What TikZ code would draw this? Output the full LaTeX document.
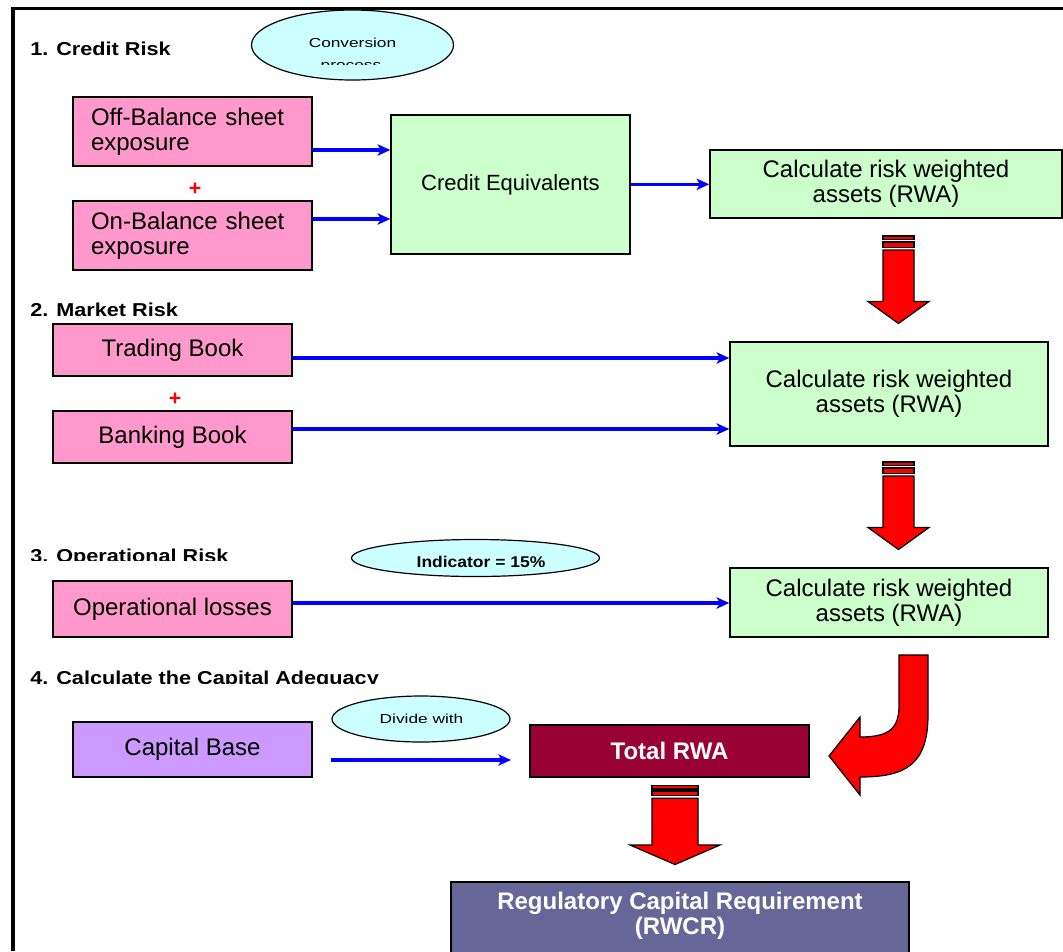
\documentclass[tikz,border=0pt]{standalone}
\usepackage{fontspec}
\setmainfont{Liberation Sans}
\newfontfamily\hdrfont[FakeStretch=1.16]{Liberation Sans}
\newfontfamily\ellfont[FakeStretch=1.33]{Liberation Sans}
\newfontfamily\indfont[FakeStretch=1.12]{Liberation Sans}
\usetikzlibrary{shapes.geometric,arrows.meta}
\definecolor{pinkc}{HTML}{FF99CC}
\definecolor{greenc}{HTML}{CCFFCC}
\definecolor{cyanc}{HTML}{CCFFFF}
\definecolor{purplec}{HTML}{CC99FF}
\definecolor{darkredc}{HTML}{990033}
\definecolor{regc}{HTML}{666699}
\definecolor{bluec}{HTML}{0000FF}
\definecolor{redc}{HTML}{FF0000}
\tikzset{
  box/.style={draw=black, line width=1.1pt, inner sep=0pt, align=center,
    font=\fontsize{18}{18.75}\selectfont},
  pinkbox/.style={box, fill=pinkc, minimum width=179.25pt},
  greenbox/.style={box, fill=greenc},
  ellbox/.style={ellipse, draw=black, line width=0.9pt, fill=cyanc, inner sep=0pt},
  hdr/.style={font=\hdrfont\bfseries\fontsize{14}{16}\selectfont, inner sep=0pt, anchor=base west},
  plus/.style={font=\bfseries\fontsize{16}{16}\selectfont, text=redc, inner sep=0pt},
  barrow/.style={draw=bluec, line width=2.6pt,
    -{Stealth[length=9.5pt,width=8.5pt,inset=2.5pt]}},
  redblk/.style={fill=redc, draw=black, line width=0.9pt, line join=miter},
}
\begin{document}
\begin{tikzpicture}[x=0.75pt, y=-0.75pt]
\clip (0,0) rectangle (1063,951);
\fill[white] (0,0) rectangle (1063,951);
% frame
\draw[line width=2.6pt] (13,951) -- (13,8.7) -- (1063,8.7);

% 1. Credit risk
\node[hdr] (h1) at (30,55) {1. Credit Risk};
\node[ellbox, minimum width=151.5pt, minimum height=52.5pt] (conv) at (352.5,45) {};
\node[font=\ellfont\fontsize{9.75}{12}\selectfont, anchor=base, inner sep=0pt] (convt) at (352.5,47.7) {Conversion};
\begin{scope}
  \clip (300,62.4) rectangle (410,64.2);
  \node[font=\ellfont\fontsize{9.75}{12}\selectfont, anchor=base, inner sep=0pt] (convp) at (351,69.4) {process};
\end{scope}

\node[pinkbox, minimum height=51.75pt, text width=152.25pt, align=left] (off) at (192.5,131.5) {Off-Balance sheet\\exposure};
\node[plus] (p1) at (195,189) {+};
\node[pinkbox, minimum height=51.75pt, text width=152.25pt, align=left] (on) at (192.5,235.5) {On-Balance sheet\\exposure};
\node[greenbox, minimum width=179.25pt, minimum height=104.25pt, font=\fontsize{16.5}{18}\selectfont] (ce) at (510.5,184.5) {Credit Equivalents};
\node[greenbox, minimum width=264pt, minimum height=51pt] (rwa1) at (886,184) {Calculate risk weighted\\assets (RWA)};

\coordinate (y150) at (0,150);
\coordinate (y219) at (0,219);
\coordinate (y184) at (0,184.3);
\draw[barrow] (off.east |- y150) -- (ce.west |- y150);
\draw[barrow] (on.east |- y219) -- (ce.west |- y219);
\draw[barrow] (ce.east |- y184) -- (rwa1.west |- y184);

% red arrow 1
\draw[redblk] (883,236) rectangle (914,239.5);
\draw[redblk] (883,242) rectangle (914,247.5);
\draw[redblk] (883,250) -- (914,250) -- (914,301.5) -- (929,301.5) -- (898.5,323.5) -- (868,301.5) -- (883,301.5) -- cycle;

% 2. Market risk
\node[hdr] (h2) at (30,316.7) {2. Market Risk};
\node[pinkbox, minimum height=39pt] (trad) at (172.5,350) {Trading Book};
\node[plus] (p2) at (175,399) {+};
\node[pinkbox, minimum height=39pt] (bank) at (172.5,437) {Banking Book};
\node[greenbox, minimum width=238.5pt, minimum height=78pt] (rwa2) at (889,394) {Calculate risk weighted\\assets (RWA)};
\coordinate (y358) at (0,358);
\coordinate (y429) at (0,429);
\draw[barrow] (trad.east |- y358) -- (rwa2.west |- y358);
\draw[barrow] (bank.east |- y429) -- (rwa2.west |- y429);

% red arrow 2
\draw[redblk] (883,462) rectangle (914,465.5);
\draw[redblk] (883,468) rectangle (914,473.5);
\draw[redblk] (883,476) -- (914,476) -- (914,527.5) -- (929,527.5) -- (898.5,549.5) -- (868,527.5) -- (883,527.5) -- cycle;

% 3. Operational risk
\begin{scope}
  \clip (20,530) rectangle (300,560.8);
  \node[hdr] (h3) at (30,562) {3. Operational Risk};
\end{scope}
\node[ellbox, minimum width=186pt, minimum height=27.75pt] (ind) at (475.5,558) {};
\node[font=\indfont\bfseries\fontsize{11.7}{13}\selectfont, anchor=base, inner sep=0pt] (indt) at (481,567.3) {Indicator = 15\%};
\node[pinkbox, minimum height=42pt] (oploss) at (172.5,609) {Operational losses};
\node[greenbox, minimum width=238.5pt, minimum height=51.75pt] (rwa3) at (889,602.5) {Calculate risk weighted\\assets (RWA)};
\coordinate (y603) at (0,603);
\draw[barrow] (oploss.east |- y603) -- (rwa3.west |- y603);

% curved red arrow
\draw[redblk] (899,655) -- (928,655) -- (928,715) .. controls (928,765) and (905,777) .. (860,777)
  -- (860,795) -- (829,756) -- (860,717) -- (860,737) .. controls (890,737) and (899,728) .. (899,705) -- cycle;

% 4. Capital adequacy
\begin{scope}
  \clip (20,650) rectangle (420,683.3);
  \node[hdr] (h4) at (30,684) {4. Calculate the Capital Adequacy};
\end{scope}
\node[ellbox, minimum width=133.5pt, minimum height=34.5pt] (div) at (421,719) {};
\node[font=\ellfont\fontsize{9.75}{12}\selectfont, anchor=base, inner sep=0pt] (divt) at (421.5,723.5) {Divide with};
\node[box, fill=purplec, minimum width=179.25pt, minimum height=41.25pt] (capb) at (192.5,749.5) {Capital Base};
\node[box, fill=darkredc, text=white, minimum width=209.25pt, minimum height=39pt, font=\bfseries\fontsize{18}{18.75}\selectfont] (trwa) at (669.5,751) {Total RWA};
\coordinate (dstart) at (331,760);
\coordinate (dend) at (511,760);
\draw[barrow, line width=2.3pt] (dstart) -- (dend);

% red arrow 3
\draw[redblk] (652,785.7) rectangle (698,789);
\draw[redblk] (652,791) rectangle (698,795.7);
\draw[redblk] (652,798.3) -- (698,798.3) -- (698,845) -- (720,845) -- (675,864.5) -- (630,845) -- (652,845) -- cycle;

% regulatory box
\node[box, fill=regc, minimum width=343.5pt, minimum height=67.5pt] (reg) at (680,927) {};
\node[text=white, inner sep=0pt, align=center, font=\bfseries\fontsize{18}{18.75}\selectfont] (regt) at (680,915.5) {Regulatory Capital Requirement\\(RWCR)};
\end{tikzpicture}
\end{document}
